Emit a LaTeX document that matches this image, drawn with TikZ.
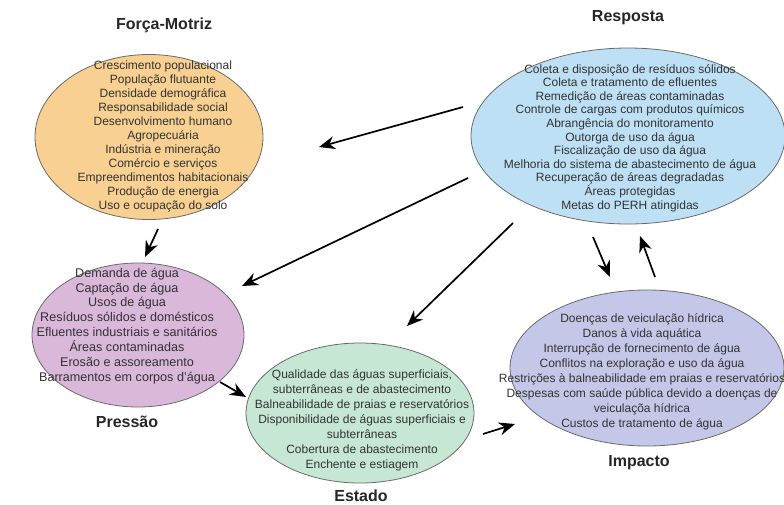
\documentclass[tikz,border=0pt]{standalone}
\usepackage{fontspec}
\setmainfont{Liberation Sans}
\usetikzlibrary{shapes.geometric,arrows.meta}
\definecolor{forcafill}{HTML}{F8D192}
\definecolor{respfill}{HTML}{BEE0F4}
\definecolor{pressfill}{HTML}{D9B8DA}
\definecolor{estfill}{HTML}{C6E7D3}
\definecolor{impfill}{HTML}{C4C7E7}
\definecolor{edgegray}{HTML}{6A6A6A}
\definecolor{textgray}{HTML}{333333}
\begin{document}
\begin{tikzpicture}[x=1pt,y=-1pt,
  elli/.style={ellipse, draw=edgegray, line width=0.8pt, inner sep=0pt},
  body/.style={align=center, text=textgray, inner sep=0pt},
  ttl/.style={font=\fontsize{16}{18}\selectfont\bfseries, text=black!85, inner sep=0pt},
  arr/.style={-{Stealth[length=16pt,width=13pt]}, line width=1.7pt, black}]
\useasboundingbox (0,0) rectangle (784,504);

% ellipses
\node[elli, fill=forcafill, minimum width=228, minimum height=165] (forca) at (149,137) {};
\node[elli, fill=respfill, minimum width=314, minimum height=176] (resp) at (628,136) {};
\node[elli, fill=pressfill, minimum width=212, minimum height=144] (press) at (138,335) {};
\node[elli, fill=estfill, minimum width=228, minimum height=140] (est) at (360,413) {};
\node[elli, fill=impfill, minimum width=274, minimum height=156] (imp) at (647,368) {};

% texts
\node[body, font=\fontsize{12}{14}\selectfont] (forcatxt) at (163,136) {Crescimento populacional\\População flutuante\\Densidade demográfica\\Responsabilidade social\\Desenvolvimento humano\\Agropecuária\\Indústria e mineração\\Comércio e serviços\\Empreendimentos habitacionais\\Produção de energia\\Uso e ocupação do solo};
\node[body, font=\fontsize{12}{13.6}\selectfont] (resptxt) at (630,138) {Coleta e disposição de resíduos sólidos\\Coleta e tratamento de efluentes\\Remedição de áreas contaminadas\\Controle de cargas com produtos químicos\\Abrangência do monitoramento\\Outorga de uso da água\\Fiscalização de uso da água\\Melhoria do sistema de abastecimento de água\\Recuperação de áreas degradadas\\Áreas protegidas\\Metas do PERH atingidas};
\node[body, font=\fontsize{12.6}{14.9}\selectfont] (presstxt) at (127,326) {Demanda de água\\Captação de água\\Usos de água\\Resíduos sólidos e domésticos\\Efluentes industriais e sanitários\\Áreas contaminadas\\Erosão e assoreamento\\Barramentos em corpos d’água};
\node[body, font=\fontsize{12}{15}\selectfont] (esttxt) at (362,420) {Qualidade das águas superficiais,\\subterrâneas e de abastecimento\\Balneabilidade de praias e reservatórios\\Disponibilidade de águas superficiais e\\subterrâneas\\Cobertura de abastecimento\\Enchente e estiagem};
\node[body, font=\fontsize{12}{15}\selectfont] (imptxt) at (642,372) {Doenças de veiculação hídrica\\Danos à vida aquática\\Interrupção de fornecimento de água\\Conflitos na exploração e uso da água\\Restrições à balneabilidade em praias e reservatórios\\Despesas com saúde pública devido a doenças de\\veiculaçõa hídrica\\Custos de tratamento de água};

% titles
\node[ttl] (forcattl) at (164,25) {Força-Motriz};
\node[ttl] (respttl) at (628,18) {Resposta};
\node[ttl] (pressttl) at (127,422) {Pressão};
\node[ttl] (estttl) at (361,496) {Estado};
\node[ttl] (impttl) at (639,463) {Impacto};

% arrow end points
\coordinate (a1s) at (463,107); \coordinate (a1e) at (319,147);
\coordinate (a2s) at (468,178); \coordinate (a2e) at (242,286);
\coordinate (a3s) at (513,223); \coordinate (a3e) at (407,326);
\coordinate (a4s) at (158,229); \coordinate (a4e) at (145,257);
\coordinate (a5s) at (220,382); \coordinate (a5e) at (246,397);
\coordinate (a6s) at (483,434); \coordinate (a6e) at (515,424);
\coordinate (a7s) at (593,237); \coordinate (a7e) at (610,277);
\coordinate (a8s) at (655,277); \coordinate (a8e) at (640,236);

\draw[arr] (a1s) -- (a1e);
\draw[arr] (a2s) -- (a2e);
\draw[arr] (a3s) -- (a3e);
\draw[arr] (a4s) -- (a4e);
\draw[arr] (a5s) -- (a5e);
\draw[arr] (a6s) -- (a6e);
\draw[arr] (a7s) -- (a7e);
\draw[arr] (a8s) -- (a8e);
\end{tikzpicture}
\end{document}
